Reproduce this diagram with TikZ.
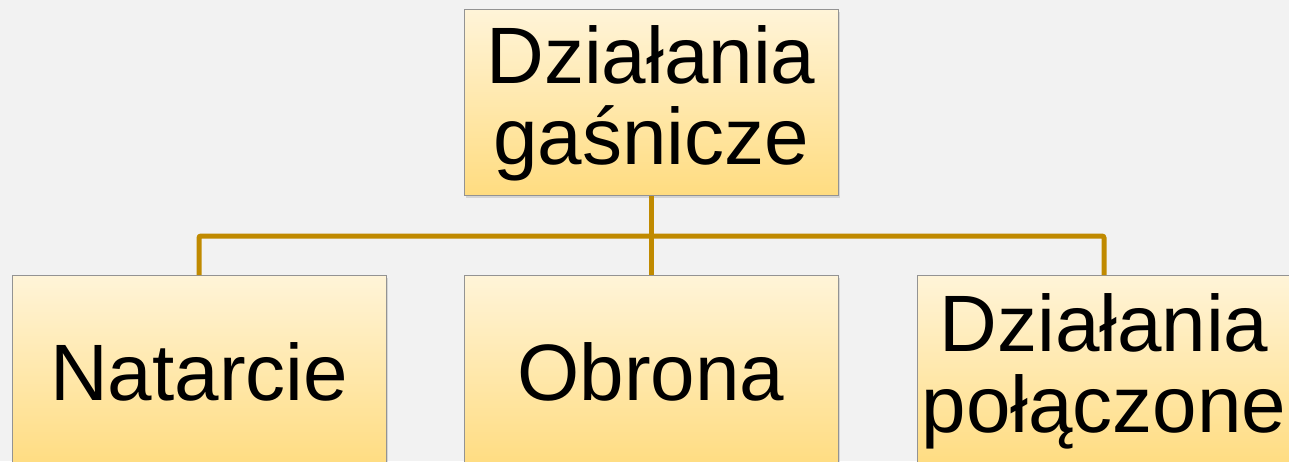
\documentclass[tikz,border=0pt]{standalone}
\usepackage{fontspec}
\setmainfont{Liberation Sans}
\usepackage{tikz}
\usetikzlibrary{positioning, shadows}

\begin{document}
\begin{tikzpicture}[x=1pt, y=1pt]
        % Define colors for the boxes and links
        \definecolor{boxtop}{RGB}{255,244,216}
        \definecolor{boxbottom}{RGB}{255,220,128}
        \definecolor{linkcolor}{RGB}{192,138,0}
        \definecolor{bgcolor}{RGB}{242,242,242}

        \tikzset{
            actbox/.style={draw=gray!85, line width=1pt, top color=boxtop, bottom color=boxbottom,
                minimum width=374pt, minimum height=186pt, inner sep=0pt, align=center,
                font=\fontsize{80}{81}\selectfont,
                drop shadow={shadow xshift=2pt, shadow yshift=-2pt, opacity=0.25}},
            lowbox/.style={actbox, minimum height=192pt, anchor=north},
            link/.style={draw=linkcolor, line width=5pt, rounded corners=2pt}
        }

        % Background and page size
        \fill[bgcolor] (0,0) rectangle (1289,461);
        \useasboundingbox (0,0) rectangle (1289,461);

        % Draw the boxes
        \node[actbox] (gasn) at (651, 358) {Działania\\gaśnicze};
        \node[lowbox] (nat) at (199, 186) {Natarcie};
        \node[lowbox] (obr) at (651, 186) {Obrona};
        \node[lowbox] (pol) at (1104, 186) {Działania\\połączone};

        % Draw the links between the boxes
        \draw[link] (gasn.south) -- (obr.north);
        \draw[link] (nat.north) -- ++(0,39) -| (pol.north);

    \end{tikzpicture}
\end{document}
